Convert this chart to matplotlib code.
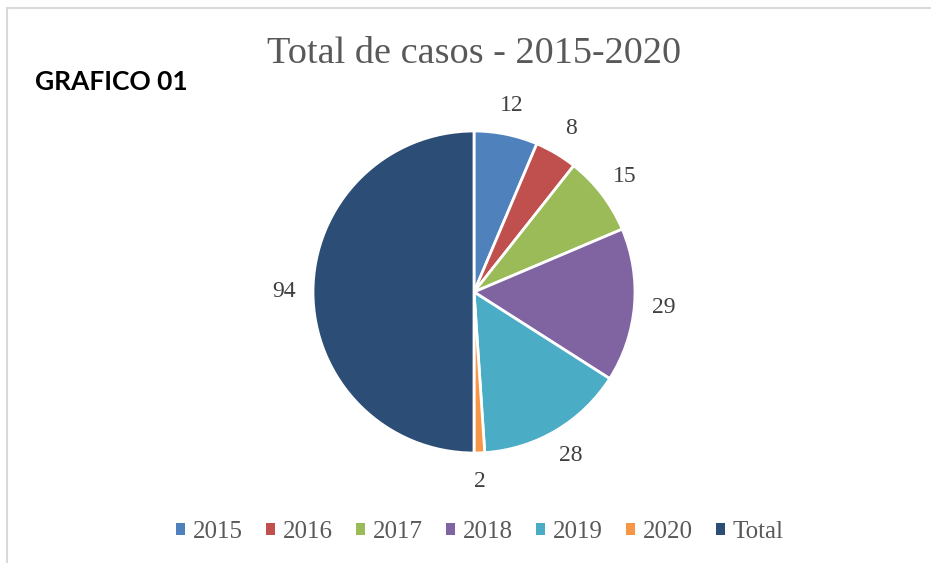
import matplotlib
matplotlib.use("Agg")
import matplotlib.pyplot as plt
from matplotlib.patches import Rectangle
import numpy as np

categories = ["2015", "2016", "2017", "2018", "2019", "2020", "Total"]
values = [12, 8, 15, 29, 28, 2, 94]
colors = ["#4F81BD", "#C0504D", "#9BBB59", "#8064A2", "#4BACC6", "#F79646", "#2C4D75"]
title = "Total de casos - 2015-2020"
side_label = "GRAFICO 01"

W, H = 931, 563
fig = plt.figure(figsize=(W / 100, H / 100), dpi=100)
fig.patch.set_facecolor("white")

# chart border
fig.add_artist(Rectangle((7 / W, -0.2), 2.0, (H - 8) / H + 0.2, transform=fig.transFigure,
                         fill=False, edgecolor="#D9D9D9", linewidth=1.5))

# pie axes: radius 161 px centred at (474, 292 from top)
R = 161
S = 3 * R
cx, cy = 474, H - 292
ax = fig.add_axes([(cx - S / 2) / W, (cy - S / 2) / H, S / W, S / H])
wedges, texts = ax.pie(values, colors=colors, startangle=90, counterclock=False,
                       labels=[str(v) for v in values], labeldistance=1.18,
                       wedgeprops=dict(edgecolor="white", linewidth=2),
                       textprops=dict(family="Liberation Serif", fontsize=17, color="#404040"))
for t in texts:
    t.set_ha("center")
    t.set_va("center")
ax.set_xlim(-1.5, 1.5)
ax.set_ylim(-1.5, 1.5)
ax.set_aspect("equal")
ax.axis("off")

fig.text(474 / W, 1 - 54 / H, title, ha="center", va="center",
         family="Liberation Serif", fontsize=27.5, color="#595959")
fig.text(35 / W, 1 - 82 / H, side_label, ha="left", va="center",
         family="Lato", fontweight="bold", fontsize=19, color="black")

leg = fig.legend(wedges, categories, loc="center", bbox_to_anchor=(480 / W, 1 - 532 / H),
                 ncol=7, frameon=False, handlelength=0.35, handleheight=0.35,
                 handletextpad=0.3, columnspacing=0.95,
                 prop=dict(family="Liberation Serif", size=18))
for t in leg.get_texts():
    t.set_color("#595959")
for h in leg.legend_handles:
    h.set_edgecolor("none")

fig.savefig("out.png", dpi=100)
